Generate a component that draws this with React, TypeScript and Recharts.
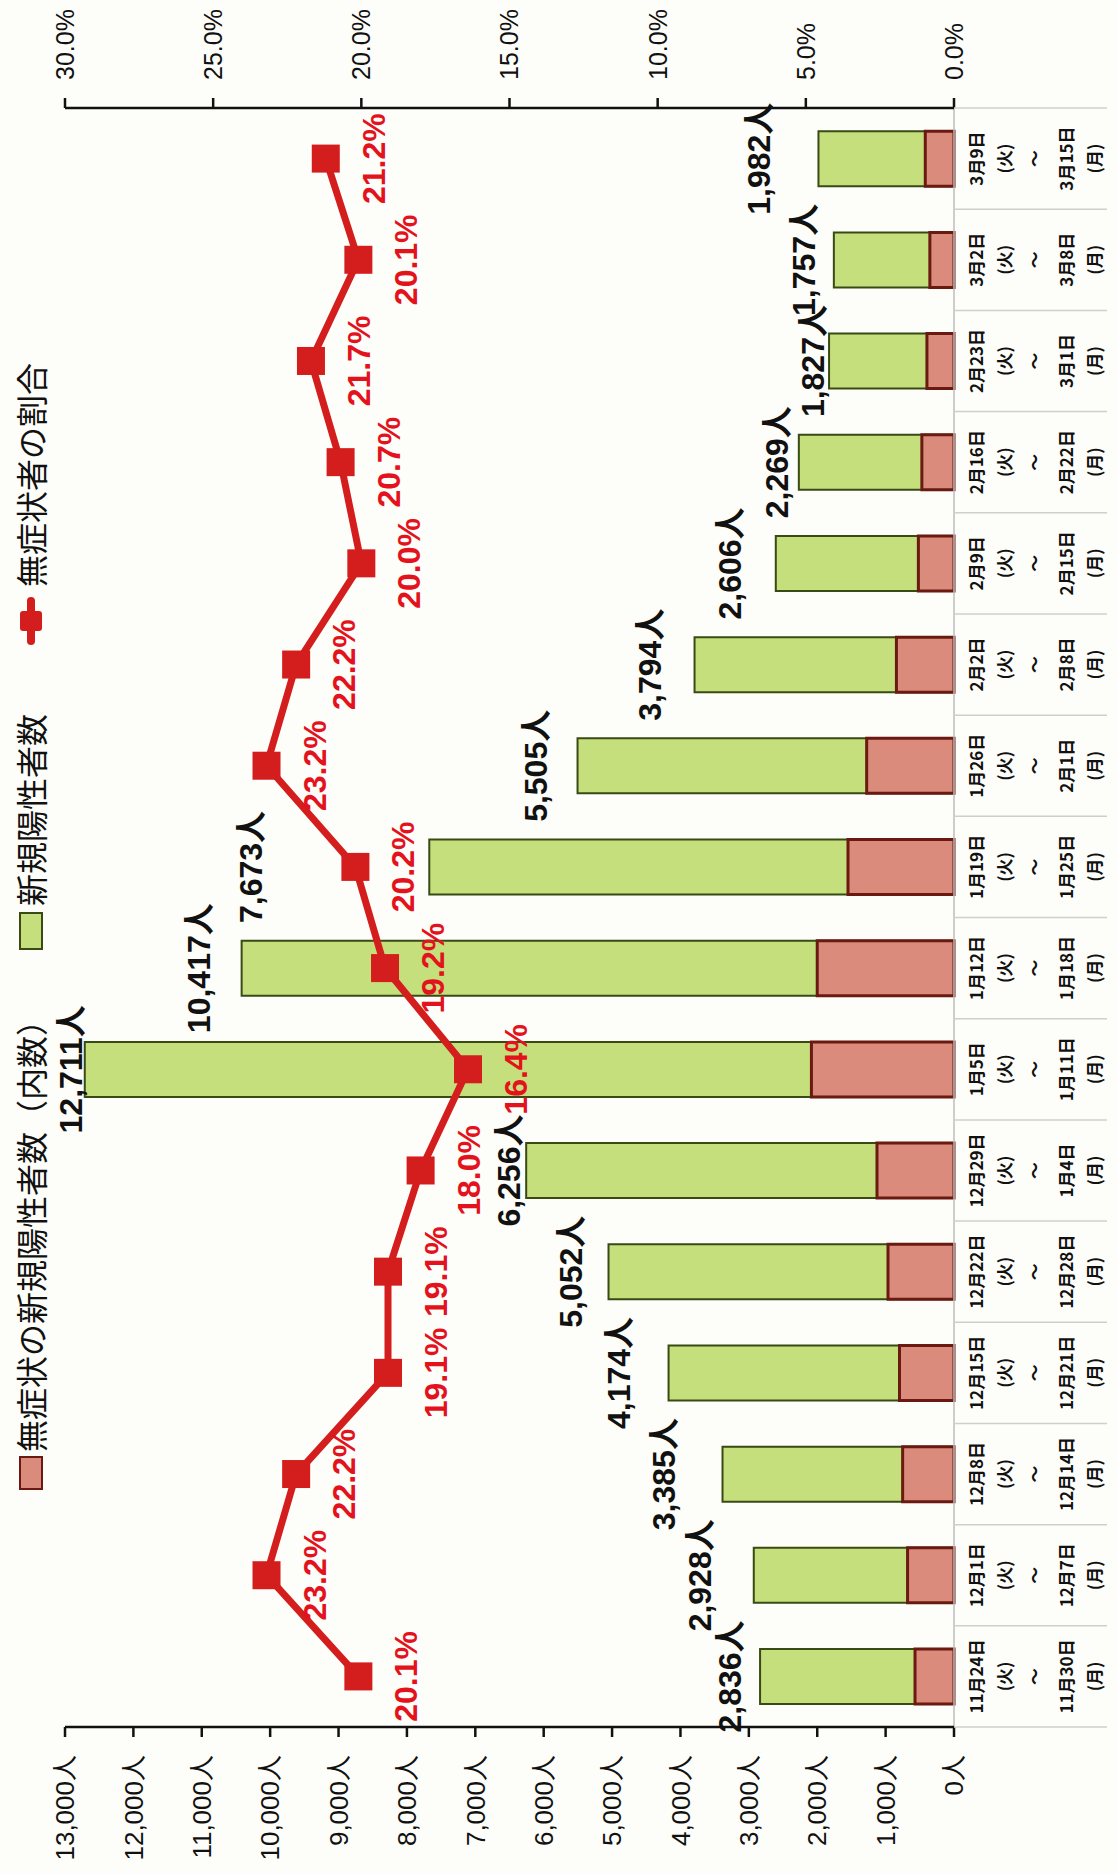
import { ComposedChart, Bar, Line, XAxis, YAxis, LabelList } from "recharts";

const weekStart = ["11月24日", "12月1日", "12月8日", "12月15日", "12月22日", "12月29日", "1月5日", "1月12日", "1月19日", "1月26日", "2月2日", "2月9日", "2月16日", "2月23日", "3月2日", "3月9日"];
const weekEnd = ["11月30日", "12月7日", "12月14日", "12月21日", "12月28日", "1月4日", "1月11日", "1月18日", "1月25日", "2月1日", "2月8日", "2月15日", "2月22日", "3月1日", "3月8日", "3月15日"];
const positives = [2836, 2928, 3385, 4174, 5052, 6256, 12711, 10417, 7673, 5505, 3794, 2606, 2269, 1827, 1757, 1982];
const asymptomatic = [570, 679, 751, 797, 965, 1126, 2085, 2000, 1550, 1277, 842, 521, 470, 396, 353, 420];
const asymRate = [20.1, 23.2, 22.2, 19.1, 19.1, 18.0, 16.4, 19.2, 20.2, 23.2, 22.2, 20.0, 20.7, 21.7, 20.1, 21.2];
const countTicks = [0, 1000, 2000, 3000, 4000, 5000, 6000, 7000, 8000, 9000, 10000, 11000, 12000, 13000];
const rateTicks = [0, 5, 10, 15, 20, 25, 30];

// chart is drawn upright then turned 90deg, like the scanned page
const W = 1874;
const H = 1117;
const LEFT_W = 147;
const RIGHT_W = 108;
const BAND = (W - LEFT_W - RIGHT_W) / weekStart.length;
const barLabelGap = [19, 43, 48, 39, 27, 6, 3, 32, 167, 31, 34, 35, 11, 5, 19, 48];

const rows = weekStart.map((s, i) => ({
  start: s,
  end: weekEnd[i],
  total: positives[i],
  asym: asymptomatic[i],
  rate: asymRate[i],
}));

const sans = "'Liberation Sans', Arial, 'Noto Sans CJK JP', sans-serif";
const jp = "'Noto Sans CJK JP', sans-serif";
const RED = "#d41d1d";

function CatTick(props: any) {
  const { x, y, payload, index } = props;
  const half = BAND / 2;
  const lines = [payload.value, "(火)", "～", weekEnd[index], "(月)"];
  const dy = [21, 49, 79, 111, 139];
  return (
    <g>
      <line x1={x - half} x2={x - half} y1={y} y2={y + 153} stroke="#cfcfcf" strokeWidth={1.5} />
      {index === weekStart.length - 1 && (
        <line x1={x + half} x2={x + half} y1={y} y2={y + 153} stroke="#cfcfcf" strokeWidth={1.5} />
      )}
      {lines.map((t, k) => (
        <text key={k} x={x} y={y + dy[k]} textAnchor="middle" dominantBaseline="central"
          fontFamily={jp} fontWeight={700} fontSize={17} fill="#111">
          {t}
        </text>
      ))}
    </g>
  );
}

function Square(props: any) {
  const { cx, cy } = props;
  if (cx == null || cy == null) return null;
  return <rect x={cx - 14} y={cy - 14} width={28} height={28} fill={RED} />;
}

function CountLabel(props: any) {
  const { x, y, width, value, index } = props;
  return (
    <text x={x + width / 2} y={y - barLabelGap[index]} textAnchor="middle"
      fontFamily={sans} fontWeight={700} fontSize={32} fill="#111">
      {Number(value).toLocaleString("en-US")}人
    </text>
  );
}

function RateLabel(props: any) {
  const { x, y, value } = props;
  return (
    <text x={x} y={y + 36 + 23} textAnchor="middle"
      fontFamily={sans} fontWeight={700} fontSize={32} fill="#e3121c">
      {Number(value).toFixed(1)}%
    </text>
  );
}

function LegendRow() {
  const txt = { position: "absolute" as const, top: 8, fontFamily: jp, fontSize: 32, lineHeight: "44px", color: "#111", whiteSpace: "nowrap" as const };
  return (
    <>
      <div style={{ position: "absolute", left: 384, top: 19, width: 30, height: 20, background: "#da8b7b", border: "2px solid #6a1a10" }} />
      <div style={{ ...txt, left: 422 }}>無症状の新規陽性者数（内数）</div>
      <div style={{ position: "absolute", left: 924, top: 19, width: 34, height: 20, background: "#c4df7b", border: "2px solid #3a4a14" }} />
      <div style={{ ...txt, left: 968 }}>新規陽性者数</div>
      <div style={{ position: "absolute", left: 1229, top: 27, width: 48, height: 8, background: RED, borderRadius: 4 }} />
      <div style={{ position: "absolute", left: 1243, top: 20, width: 20, height: 22, background: RED, borderRadius: 3 }} />
      <div style={{ ...txt, left: 1287 }}>無症状者の割合</div>
    </>
  );
}

export default function App() {
  return (
    <div style={{ position: "relative", width: 1117, height: 1874, overflow: "hidden", background: "#fdfdf9" }}>
      <style>{`body{margin:0}`}</style>
      <div style={{ position: "absolute", left: 0, top: 0, width: W, height: H, transformOrigin: "0 0", transform: `translateY(${W}px) rotate(-90deg)` }}>
        <LegendRow />
        <ComposedChart width={W} height={H} data={rows} margin={{ top: 65, right: 0, bottom: 0, left: 0 }} barSize={55} barGap={-55}>
          <XAxis dataKey="start" height={163} interval={0} tick={<CatTick />} tickLine={false} tickSize={0} tickMargin={0}
            axisLine={{ stroke: "#bdbdbd", strokeWidth: 1.5 }} />
          <YAxis yAxisId="n" orientation="left" width={LEFT_W} domain={[0, 13000]} ticks={countTicks} interval={0}
            tickFormatter={(v) => `${Number(v).toLocaleString("en-US")}人`}
            tick={{ fontFamily: sans, fontSize: 26, fill: "#111" }}
            tickSize={10} tickMargin={18}
            axisLine={{ stroke: "#111", strokeWidth: 2.5 }} tickLine={{ stroke: "#111", strokeWidth: 2.5 }} />
          <YAxis yAxisId="p" orientation="right" width={RIGHT_W} domain={[0, 30]} ticks={rateTicks} interval={0}
            tickFormatter={(v) => `${Number(v).toFixed(1)}%`}
            tick={{ fontFamily: sans, fontSize: 25, fill: "#111" }}
            tickSize={10} tickMargin={18}
            axisLine={{ stroke: "#111", strokeWidth: 2.5 }} tickLine={{ stroke: "#111", strokeWidth: 2.5 }} />
          <Bar yAxisId="n" dataKey="total" fill="#c4df7b" stroke="#3a4a14" strokeWidth={2} isAnimationActive={false}>
            <LabelList dataKey="total" content={<CountLabel />} />
          </Bar>
          <Bar yAxisId="n" dataKey="asym" fill="#da8b7b" stroke="#6a1a10" strokeWidth={3} isAnimationActive={false} />
          <Line yAxisId="p" dataKey="rate" stroke={RED} strokeWidth={7} dot={<Square />} activeDot={false} isAnimationActive={false}>
            <LabelList dataKey="rate" content={<RateLabel />} />
          </Line>
        </ComposedChart>
      </div>
    </div>
  );
}
